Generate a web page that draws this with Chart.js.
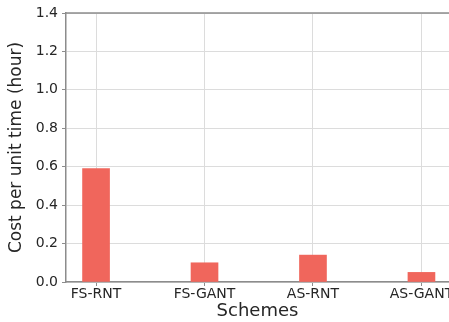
<!DOCTYPE html>
<html>
<head>
<meta charset="utf-8">
<script src="https://cdn.jsdelivr.net/npm/chart.js@4.4.1/dist/chart.umd.min.js"></script>
<style>
  html, body { margin: 0; padding: 0; background: #fff; }
  #wrap { width: 449px; height: 322px; }
</style>
</head>
<body>
<div id="wrap"><canvas id="costChart" width="449" height="322"></canvas></div>
<script>
// data
const schemes = ['FS-RNT', 'FS-GANT', 'AS-RNT', 'AS-GANT'];
const costPerHour = [0.59, 0.10, 0.14, 0.05];
const yTicks = [0, 0.2, 0.4, 0.6, 0.8, 1.0, 1.2, 1.4];

const font = 'DejaVu Sans';
const textColor = '#262626';
const gridColor = '#dcdcdc';
const spineColor = '#8c8c8c';

// garis atas (spine) seperti matplotlib
const topSpine = {
    id: 'topSpine',
    afterDraw(chart) {
        const { ctx, chartArea } = chart;
        ctx.save();
        ctx.strokeStyle = spineColor;
        ctx.lineWidth = 1.5;
        ctx.beginPath();
        ctx.moveTo(chartArea.left, chartArea.top);
        ctx.lineTo(chartArea.right, chartArea.top);
        ctx.stroke();
        ctx.restore();
    }
};

const ctx = document.getElementById('costChart').getContext('2d');
const costChart = new Chart(ctx, {
    type: 'bar',
    data: {
        datasets: [{
            data: costPerHour.map((v, i) => ({ x: i, y: v })),
            backgroundColor: '#f0665c',
            borderWidth: 0,
            barThickness: 27
        }]
    },
    options: {
        responsive: false,
        animation: false,
        layout: { padding: { top: 13, left: 0, right: 0, bottom: 0 } },
        plugins: { legend: { display: false }, tooltip: { enabled: false } },
        scales: {
            x: {
                type: 'linear',
                offset: false,
                min: -0.277,
                max: 3.254,
                afterBuildTicks: scale => {
                    scale.ticks = schemes.map((s, i) => ({ value: i }));
                },
                afterFit: scale => {
                    scale.height = 40;
                    scale.paddingLeft = 0;
                    scale.paddingRight = 0;
                },
                ticks: {
                    autoSkip: false,
                    maxRotation: 0,
                    padding: 0,
                    color: textColor,
                    font: { family: font, size: 14 },
                    callback: v => schemes[v]
                },
                grid: { offset: false, color: gridColor, lineWidth: 1, tickLength: 4, tickColor: spineColor },
                border: { color: spineColor, width: 1.5 },
                title: {
                    display: true,
                    text: 'Schemes',
                    color: textColor,
                    font: { family: font, size: 18 },
                    padding: { top: 0, bottom: 0 }
                }
            },
            y: {
                min: 0,
                max: 1.4,
                afterBuildTicks: scale => {
                    scale.ticks = yTicks.map(v => ({ value: v }));
                },
                afterFit: scale => { scale.width = 66; },
                ticks: {
                    padding: 4,
                    color: textColor,
                    font: { family: font, size: 14 },
                    callback: v => v.toFixed(1)
                },
                grid: { color: gridColor, lineWidth: 1, tickLength: 4, tickColor: spineColor },
                border: { color: spineColor, width: 1.5 },
                title: {
                    display: true,
                    text: 'Cost per unit time (hour)',
                    color: textColor,
                    font: { family: font, size: 17 },
                    padding: { top: 6, bottom: 2 }
                }
            }
        }
    },
    plugins: [topSpine]
});
</script>
</body>
</html>
